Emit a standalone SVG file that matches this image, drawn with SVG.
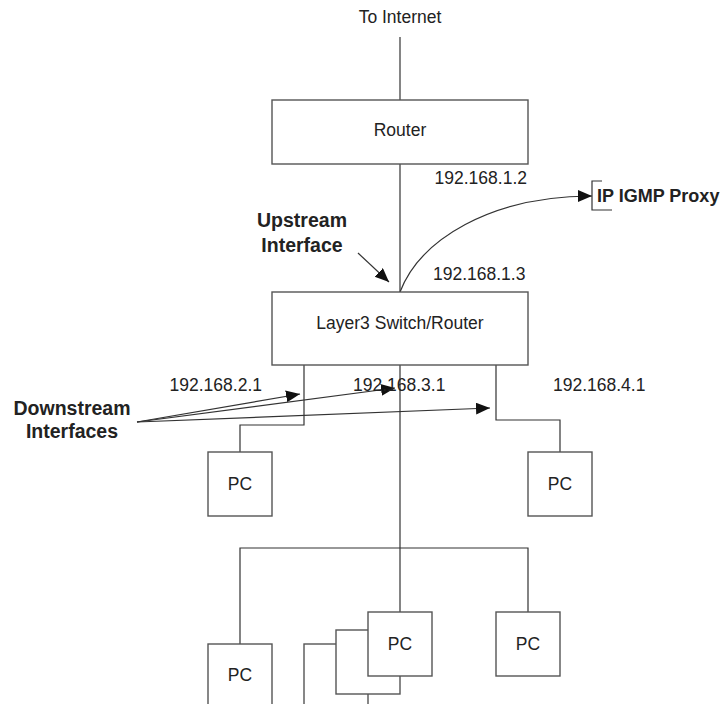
<svg xmlns="http://www.w3.org/2000/svg" width="720" height="704" viewBox="0 0 720 704">
<style>
.box{fill:#fff;stroke:#555;stroke-width:1.4}
.ln{fill:none;stroke:#333;stroke-width:1.2}
.t{font-family:"Liberation Sans",Arial,sans-serif;font-size:17.5px;fill:#222}
.b{font-family:"Liberation Sans",Arial,sans-serif;font-weight:bold;font-size:19.5px;fill:#222}
.m{text-anchor:middle}
.e{text-anchor:end}
</style>
<defs>
<marker id="ah" markerUnits="userSpaceOnUse" markerWidth="15" markerHeight="13" refX="14" refY="6" orient="auto">
<path d="M0,0 L14,6 L0,12 z" fill="#111"/>
</marker>
</defs>
<rect width="720" height="704" fill="#fff"/>
<g id="connectors">
<line class="ln" x1="400" y1="37" x2="400" y2="100"/>
<line class="ln" x1="400" y1="164" x2="400" y2="292"/>
<path class="ln" d="M400,292 C420,240 490,196 592,196" marker-end="url(#ah)"/>
<line class="ln" x1="358" y1="253" x2="389" y2="282" marker-end="url(#ah)"/>
<polyline class="ln" points="304,365 304,425 240,425 240,452"/>
<polyline class="ln" points="496,365 496,420 560,420 560,452"/>
<line class="ln" x1="400" y1="365" x2="400" y2="612"/>
<polyline class="ln" points="240,644 240,548 528,548 528,612"/>
<line class="ln" x1="137" y1="422" x2="300" y2="394" marker-end="url(#ah)"/>
<line class="ln" x1="137" y1="422" x2="395" y2="388" marker-end="url(#ah)"/>
<line class="ln" x1="137" y1="422" x2="490" y2="408" marker-end="url(#ah)"/>
</g>
<g id="internet"><text class="t m" x="400" y="23">To Internet</text></g>
<g id="router">
<rect class="box" x="272" y="100" width="256" height="64"/>
<text class="t m" x="400" y="136">Router</text>
<text class="t e" x="527" y="184">192.168.1.2</text>
</g>
<g id="igmp-proxy">
<polyline class="ln" points="602,181 592,181 592,210 612,210"/>
<text class="b" style="font-size:18px" x="597" y="202">IP IGMP Proxy</text>
</g>
<g id="upstream-label">
<text class="b m" x="302" y="227">Upstream</text>
<text class="b m" x="302" y="252">Interface</text>
</g>
<g id="switch">
<rect class="box" x="272" y="292" width="256" height="73"/>
<text class="t m" x="400" y="329">Layer3 Switch/Router</text>
<text class="t" x="433" y="280">192.168.1.3</text>
</g>
<g id="if-labels">
<text class="t e" x="262" y="391">192.168.2.1</text>
<text class="t" x="353" y="391">192.168.3.1</text>
<text class="t" x="553" y="391">192.168.4.1</text>
</g>
<g id="downstream-label">
<text class="b m" x="72" y="415">Downstream</text>
<text class="b m" x="72" y="438">Interfaces</text>
</g>
<g id="pc1"><rect class="box" x="208" y="452" width="64" height="64"/><text class="t m" x="240" y="490">PC</text></g>
<g id="pc2"><rect class="box" x="528" y="452" width="64" height="64"/><text class="t m" x="560" y="490">PC</text></g>
<g id="pc3"><rect class="box" x="208" y="644" width="64" height="70"/><text class="t m" x="240" y="681">PC</text></g>
<g id="pc-stack">
<rect class="box" x="304" y="644" width="64" height="70"/>
<rect class="box" x="336" y="630" width="64" height="64"/>
<rect class="box" x="368" y="612" width="64" height="64"/>
<text class="t m" x="400" y="650">PC</text>
</g>
<g id="pc5"><rect class="box" x="496" y="612" width="64" height="64"/><text class="t m" x="528" y="650">PC</text></g>
</svg>
